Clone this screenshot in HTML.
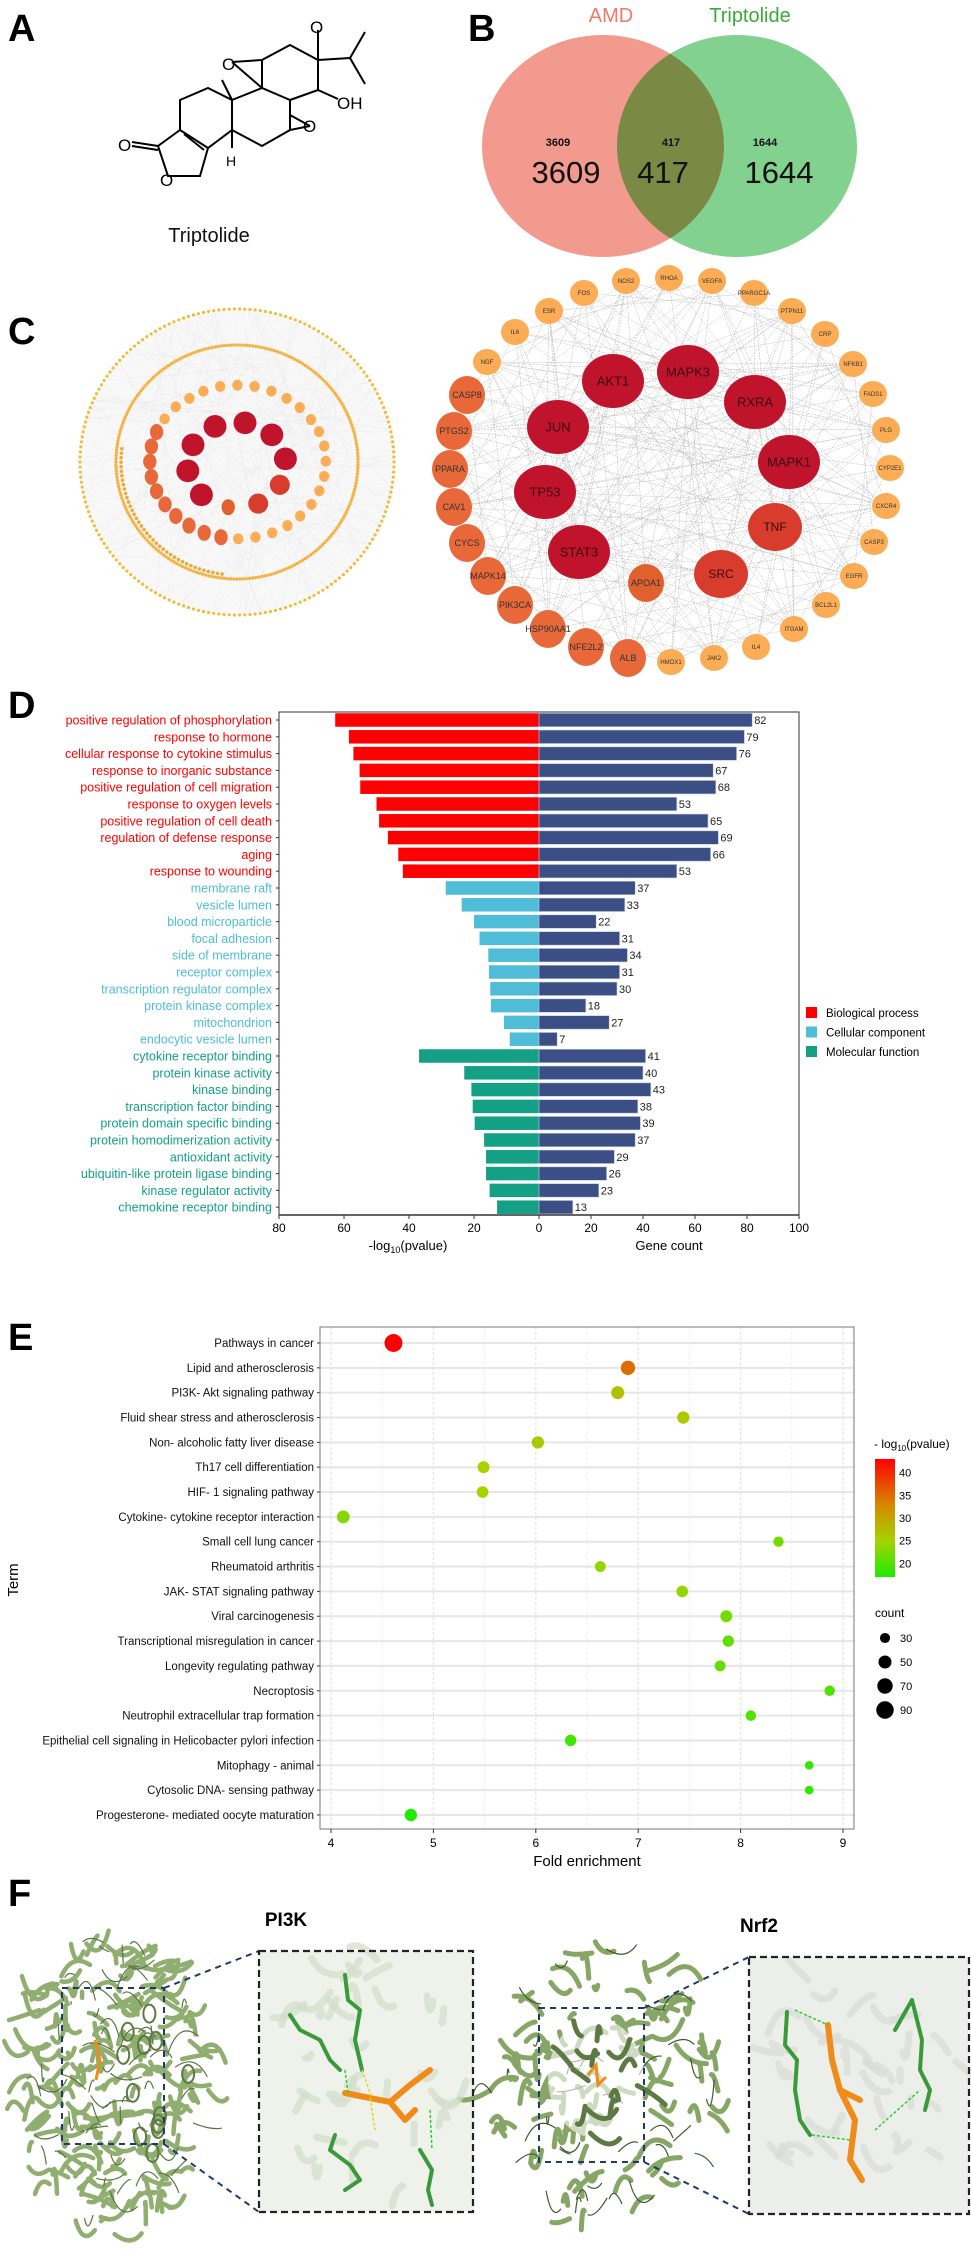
<!DOCTYPE html>
<html><head><meta charset="utf-8"><style>
body{margin:0;background:#fff;}
svg{display:block;font-family:"Liberation Sans",Arial,sans-serif;}
</style></head><body>
<svg id="fig" width="971" height="2250" viewBox="0 0 971 2250">
<text x="8" y="41" font-size="38" font-weight="bold">A</text>
<text x="468" y="41" font-size="38" font-weight="bold">B</text>
<text x="8" y="344" font-size="38" font-weight="bold">C</text>
<text x="8" y="718" font-size="38" font-weight="bold">D</text>
<text x="8" y="1350" font-size="38" font-weight="bold">E</text>
<text x="8" y="1906" font-size="38" font-weight="bold">F</text>

<g stroke="#000" stroke-width="2" fill="none">
<polyline points="180,130 180,100 208,88 232,100 232,130 208,148 180,130"/>
<polyline points="232,100 262,88 290,100 290,130 262,146 232,130"/>
<polyline points="262,88 262,60 290,45 318,60 318,90 290,100"/>
<line x1="262" y1="60" x2="232" y2="62"/><line x1="232" y1="62" x2="262" y2="88"/>
<line x1="318" y1="60" x2="318" y2="30"/>
<line x1="318" y1="60" x2="350" y2="58"/><line x1="350" y1="58" x2="365" y2="32"/><line x1="350" y1="58" x2="365" y2="84"/>
<line x1="318" y1="90" x2="338" y2="99"/>
<line x1="290" y1="130" x2="310" y2="126"/><line x1="290" y1="115" x2="310" y2="126"/>
<polyline points="180,130 158,146 168,176 200,176 208,148"/>
<line x1="184" y1="134" x2="204" y2="150"/>
<line x1="158" y1="146" x2="132" y2="142"/><line x1="158" y1="150" x2="132" y2="146"/>
<line x1="232" y1="100" x2="222" y2="80"/>
<line x1="232" y1="130" x2="232" y2="148"/>
</g>
<g font-size="17" fill="#000">
<text x="222" y="70">O</text><text x="310" y="33">O</text><text x="337" y="109">OH</text>
<text x="303" y="132">O</text><text x="118" y="151">O</text><text x="160" y="186">O</text><text x="226" y="166" font-size="14">H</text>
</g>
<text x="209" y="242" font-size="20" text-anchor="middle" fill="#111">Triptolide</text>

<g>
<text x="611" y="22" font-size="20" text-anchor="middle" fill="#f07a6a">AMD</text>
<text x="750" y="22" font-size="20" text-anchor="middle" fill="#3aaa3a">Triptolide</text>
<ellipse cx="603" cy="146" rx="121" ry="111" fill="#f29a8e"/>
<ellipse cx="737" cy="146" rx="120" ry="111" fill="#6cc97a" fill-opacity="0.85"/>
<clipPath id="clipA"><ellipse cx="603" cy="146" rx="121" ry="111"/></clipPath>
<ellipse cx="737" cy="146" rx="120" ry="111" fill="#7a8a45" clip-path="url(#clipA)"/>
<g font-weight="bold" font-size="11" text-anchor="middle" fill="#111">
<text x="558" y="146">3609</text><text x="671" y="146">417</text><text x="765" y="146">1644</text></g>
<g font-size="31" text-anchor="middle" fill="#111">
<text x="566" y="183">3609</text>
<text x="663" y="183">417</text>
<text x="779" y="183">1644</text></g>
</g>

<g id="netL"></g>
<g id="netR"></g>
<g id="chartD"></g>
<g id="chartE"></g>

<g id="panelF">
<text x="286" y="1926" font-size="19" font-weight="bold" text-anchor="middle">PI3K</text>
<text x="759" y="1932" font-size="19" font-weight="bold" text-anchor="middle">Nrf2</text>
<rect x="259" y="1951" width="214" height="261" fill="#eef2ea"/>
<rect x="749" y="1957" width="220" height="257" fill="#eceeea"/>
<g id="protA"></g>
<g id="protB"></g>
<g id="siteA"></g><g id="siteB"></g>
<g fill="none" stroke="#1e3a6e" stroke-width="2" stroke-dasharray="6,5">
<rect x="62" y="1988" width="102" height="156"/>
<rect x="539" y="2008" width="105" height="154"/>
<line x1="164" y1="1988" x2="259" y2="1951"/><line x1="164" y1="2144" x2="259" y2="2212"/>
<line x1="644" y1="2008" x2="749" y2="1957"/><line x1="644" y1="2162" x2="749" y2="2214"/>
</g>
<g fill="none" stroke="#222" stroke-width="2.2" stroke-dasharray="7,4">
<rect x="259" y="1951" width="214" height="261"/>
<rect x="749" y="1957" width="220" height="257"/>
</g>
<g stroke="#3a9a3a" stroke-width="4" fill="none" stroke-linecap="round" stroke-linejoin="round">
<polyline points="345,1975 348,2000 360,2010 355,2040 362,2070"/>
<polyline points="290,2015 300,2030 320,2040 330,2060 340,2070"/>
<polyline points="335,2135 330,2150 350,2165 360,2180 345,2190"/>
<polyline points="420,2150 432,2170 428,2190 432,2205"/>
<polyline points="787,2012 785,2045 797,2060 795,2090 800,2120 810,2135"/>
<polyline points="895,2030 912,2000 922,2040 920,2070 930,2090 925,2110"/>
</g>
<g stroke="#f08a18" stroke-width="6" fill="none" stroke-linecap="round" stroke-linejoin="round">
<polyline points="345,2093 370,2098 390,2102 410,2085 430,2070"/>
<polyline points="390,2102 405,2120 415,2110"/>
<polyline points="828,2025 832,2060 840,2090 855,2120 850,2160 862,2180"/>
<polyline points="840,2090 860,2100"/>
</g>
<g stroke="#2ad02a" stroke-width="1.5" stroke-dasharray="3,2" fill="none">
<line x1="345" y1="2070" x2="348" y2="2093"/><line x1="430" y1="2110" x2="432" y2="2150"/>
<line x1="795" y1="2010" x2="828" y2="2025"/><line x1="812" y1="2135" x2="850" y2="2140"/><line x1="875" y1="2130" x2="920" y2="2090"/>
</g>
<g stroke="#e6d21a" stroke-width="1.5" stroke-dasharray="3,2" fill="none">
<line x1="362" y1="2070" x2="372" y2="2098"/><line x1="370" y1="2098" x2="375" y2="2130"/>
</g>
</g>
</svg>
<script>
const NS='http://www.w3.org/2000/svg';
function mk(parent,tag,attrs,txt){const e=document.createElementNS(NS,tag);for(const k in attrs)e.setAttribute(k,attrs[k]);if(txt!==undefined)e.textContent=txt;parent.appendChild(e);return e;}
let seed=7;function rnd(){seed=(seed*16807)%2147483647;return seed/2147483647;}

const coreNames=['AKT1','MAPK3','RXRA','JUN','MAPK1','TP53','STAT3','TNF','SRC','APOA1','PTGS2','PPARA','CAV1','CYCS','MAPK14','PIK3CA','HSP90AA1','NFE2L2','ALB','CASP8','NGF','IL6','ESR','FOS','NOS2','RHOA','VEGFA','PPARGC1A','PTPN11','CRP','NFKB1','FADS1','PLG','CYP2E1','CXCR4','CASP3','EGFR','BCL2L1','ITGAM','IL4','JAK2','HMOX1'];
const coreX=[613,688,755,558,789,545,579,775,721,646,454,450,454,467,488,515,548,586,628,467,487,515,549,584,626,669,712,754,792,825,853,873,886,890,886,874,854,826,794,756,714,671];
const coreY=[381,372,402,427,462,492,552,527,574,583,431,469,507,543,576,605,629,647,658,395,362,332,311,293,281,278,281,293,311,334,364,394,430,468,506,542,576,605,629,647,658,662];
const coreTier=[0,0,0,0,0,0,0,1,1,2,2,2,2,2,2,2,2,2,2,2,3,3,3,3,3,3,3,3,3,3,3,3,3,3,3,3,3,3,3,3,3,3];
const rxT=[31,27,18,14],ryT=[27,24,19,13],fillsT=['#c0132c','#d83c2c','#e8683a','#fbac55'];

/* ---------- Panel C left network ---------- */
(function(){
const g=document.getElementById('netL');
const cx=237,cy=462;
mk(g,'ellipse',{cx:cx,cy:cy,rx:156,ry:151,fill:'#f8f8f8'});
const lines=mk(g,'g',{stroke:'#e6e6e6','stroke-width':0.3});
for(let i=0;i<200;i++){const a=rnd()*6.283,b=rnd()*6.283,r1=120*Math.sqrt(rnd()),r2=155;mk(lines,'line',{x1:cx+r1*Math.cos(a),y1:cy+r1*Math.sin(a),x2:cx+r2*Math.cos(b),y2:cy+r2*0.97*Math.sin(b)});}
for(let i=0;i<190;i++){const a=i/190*Math.PI*2;mk(g,'circle',{cx:cx+157*Math.cos(a),cy:cy+153*Math.sin(a),r:1.6,fill:'#f2bb3a'});}
for(let i=0;i<240;i++){const a=i/240*Math.PI*2;mk(g,'circle',{cx:cx+121*Math.cos(a),cy:cy+117*Math.sin(a),r:1.7,fill:'#f3b445'});}
for(let i=0;i<40;i++){const a=1.7+i/40*1.6;mk(g,'circle',{cx:cx+116*Math.cos(a),cy:cy+113*Math.sin(a),r:1.8,fill:'#f0a838'});}
const s=0.4,ox=668,oy=470;
for(let i=0;i<coreNames.length;i++){const t=coreTier[i];let f=fillsT[t];if(i===9)f='#e0602e';
mk(g,'ellipse',{cx:cx+(coreX[i]-ox)*s,cy:cy+(coreY[i]-oy)*s,rx:rxT[t]*0.37,ry:ryT[t]*0.42,fill:f});}
})();

/* ---------- Panel C right network ---------- */
(function(){
const g=document.getElementById('netR');
const el=mk(g,'g',{stroke:'#b8b8b8','stroke-width':0.5,'stroke-dasharray':'2,1'});
for(let i=0;i<coreNames.length;i++)for(let j=i+1;j<coreNames.length;j++){if((i*7+j*3)%5===0||coreTier[i]===0&&j%2===0)mk(el,'line',{x1:coreX[i],y1:coreY[i],x2:coreX[j],y2:coreY[j]});}
const fs=[13,12,9,6];
for(let i=0;i<coreNames.length;i++){const t=coreTier[i];let f=fillsT[t];if(i===9)f='#e0602e';
const n=mk(g,'ellipse',{cx:coreX[i],cy:coreY[i],rx:rxT[t],ry:ryT[t],fill:f});


mk(g,'text',{x:coreX[i],y:coreY[i]+fs[t]*0.35,'font-size':fs[t],'text-anchor':'middle',fill:t<2?'#3a0a10':'#333'},coreNames[i]);}
})();

/* ---------- Panel D ---------- */
const goTerms=['positive regulation of phosphorylation','response to hormone','cellular response to cytokine stimulus','response to inorganic substance','positive regulation of cell migration','response to oxygen levels','positive regulation of cell death','regulation of defense response','aging','response to wounding','membrane raft','vesicle lumen','blood microparticle','focal adhesion','side of membrane','receptor complex','transcription regulator complex','protein kinase complex','mitochondrion','endocytic vesicle lumen','cytokine receptor binding','protein kinase activity','kinase binding','transcription factor binding','protein domain specific binding','protein homodimerization activity','antioxidant activity','ubiquitin-like protein ligase binding','kinase regulator activity','chemokine receptor binding'];
const goCategory=['BP','BP','BP','BP','BP','BP','BP','BP','BP','BP','CC','CC','CC','CC','CC','CC','CC','CC','CC','CC','MF','MF','MF','MF','MF','MF','MF','MF','MF','MF'];
const goLogP=[62.7,58.5,57.1,55.2,55,50,49.2,46.5,43.3,41.9,28.7,23.8,20,18.3,15.6,15.4,15,14.8,10.8,9,36.9,23,20.8,20.4,19.8,16.9,16.3,16.3,15.2,12.9];
const goCount=[82,79,76,67,68,53,65,69,66,53,37,33,22,31,34,31,30,18,27,7,41,40,43,38,39,37,29,26,23,13];
const leftTicks=[80,60,40,20,0];
const rightTicks=[20,40,60,80,100];
(function(){
const g=document.getElementById('chartD');
const L=279,R=799,Z=539,T=712,B=1215,row0=720,step=16.8,bh=13.5;
const xl=v=>Z-v*(Z-L)/80, xr=v=>Z+v*(R-Z)/100, y=i=>row0+i*step;
const col={BP:'#ff0000',CC:'#4fbcd8',MF:'#14a085'};
mk(g,'rect',{x:L,y:T,width:R-L,height:B-T,fill:'#fff',stroke:'#333','stroke-width':1});
goTerms.forEach((t,i)=>{
const b1=mk(g,'rect',{x:xl(goLogP[i]),y:y(i)-bh/2,width:Z-xl(goLogP[i]),height:bh,fill:col[goCategory[i]]});


const b2=mk(g,'rect',{x:Z,y:y(i)-bh/2,width:xr(goCount[i])-Z,height:bh,fill:'#3b4f86',stroke:'#c8cde0','stroke-width':0.6});


mk(g,'text',{x:xr(goCount[i])+2,y:y(i)+4,'font-size':11,fill:'#222'},goCount[i]);
const lb=mk(g,'text',{x:272,y:y(i)+4.5,'font-size':12.5,'text-anchor':'end',fill:col[goCategory[i]]},t);


mk(g,'line',{x1:L-3,x2:L,y1:y(i),y2:y(i),stroke:'#333'});
});
mk(g,'line',{x1:L,x2:R,y1:B,y2:B,stroke:'#333','stroke-width':1.5});
leftTicks.forEach(v=>{mk(g,'line',{x1:xl(v),x2:xl(v),y1:B,y2:B+4,stroke:'#333'});mk(g,'text',{x:xl(v),y:B+17,'font-size':12,'text-anchor':'middle'},v);});
rightTicks.forEach(v=>{mk(g,'line',{x1:xr(v),x2:xr(v),y1:B,y2:B+4,stroke:'#333'});mk(g,'text',{x:xr(v),y:B+17,'font-size':12,'text-anchor':'middle'},v);});
const xt=mk(g,'text',{x:408,y:1250,'font-size':13,'text-anchor':'middle'});
xt.innerHTML='-log<tspan font-size="9" dy="3">10</tspan><tspan dy="-3">(pvalue)</tspan>';


const xt2=mk(g,'text',{x:669,y:1250,'font-size':13,'text-anchor':'middle'},'Gene count');


[['Biological process','#ff0000'],['Cellular component','#4fbcd8'],['Molecular function','#14a085']].forEach((e,i)=>{
const yy=1013+i*19.5;
const r=mk(g,'rect',{x:806,y:yy-6,width:11,height:11,fill:e[1]});


mk(g,'text',{x:826,y:yy+4,'font-size':11.5},e[0]);});
})();

/* ---------- Panel E ---------- */
const keggTerms=['Pathways in cancer','Lipid and atherosclerosis','PI3K- Akt signaling pathway','Fluid shear stress and atherosclerosis','Non- alcoholic fatty liver disease','Th17 cell differentiation','HIF- 1 signaling pathway','Cytokine- cytokine receptor interaction','Small cell lung cancer','Rheumatoid arthritis','JAK- STAT signaling pathway','Viral carcinogenesis','Transcriptional misregulation in cancer','Longevity regulating pathway','Necroptosis','Neutrophil extracellular trap formation','Epithelial cell signaling in Helicobacter pylori infection','Mitophagy -  animal','Cytosolic DNA- sensing pathway','Progesterone- mediated oocyte maturation'];
const keggFold=[4.61,6.9,6.8,7.44,6.02,5.49,5.48,4.12,8.37,6.63,7.43,7.86,7.88,7.8,8.87,8.1,6.34,8.67,8.67,4.78];
const keggLogP=[43,35,27,26,26,25,25,23,22,24,24,22,21,21,20,20,19,18,18,17];
const keggCount=[95,60,50,45,45,42,40,48,32,35,40,42,38,35,32,33,38,22,22,45];
const foldTicks=[4,5,6,7,8,9];
const colorTicks=[20,25,30,35,40];
const sizeTicks=[30,50,70,90];
(function(){
const g=document.getElementById('chartE');
const L=320,R=854,T=1327,B=1829,row0=1343,step=24.84;
const x=v=>331+(v-4)*102.4, y=i=>row0+i*step, rad=c=>Math.sqrt(c)*0.92;
const stops=[[17,[30,235,0]],[25,[165,210,0]],[33,[215,135,0]],[43,[255,0,0]]];
function colr(v){for(let k=0;k<stops.length-1;k++){const a=stops[k],b=stops[k+1];if(v<=b[0]||k===stops.length-2){const t=Math.max(0,Math.min(1,(v-a[0])/(b[0]-a[0])));return 'rgb('+a[1].map((c,j)=>Math.round(c+(b[1][j]-c)*t)).join(',')+')';}}}
mk(g,'rect',{x:L,y:T,width:R-L,height:B-T,fill:'#fff'});
for(let v=4;v<=9;v+=0.5)mk(g,'line',{x1:x(v),x2:x(v),y1:T,y2:B,stroke:'#e4e4e4','stroke-width':v%1?0.6:1.2,'stroke-dasharray':'3,2'});
keggTerms.forEach((t,i)=>{mk(g,'line',{x1:L,x2:R,y1:y(i),y2:y(i),stroke:'#e6e6e6','stroke-width':2});
mk(g,'line',{x1:L-3,x2:L,y1:y(i),y2:y(i),stroke:'#333'});
const lb=mk(g,'text',{x:314,y:y(i)+4,'font-size':11.5,'text-anchor':'end',fill:'#111'},t);

});
mk(g,'rect',{x:L,y:T,width:R-L,height:B-T,fill:'none',stroke:'#777','stroke-width':1});
keggTerms.forEach((t,i)=>{const d=mk(g,'circle',{cx:x(keggFold[i]),cy:y(i),r:rad(keggCount[i]),fill:colr(keggLogP[i])});

});
foldTicks.forEach(v=>{mk(g,'line',{x1:x(v),x2:x(v),y1:B,y2:B+4,stroke:'#333'});mk(g,'text',{x:x(v),y:B+18,'font-size':12,'text-anchor':'middle'},v);});
const xt=mk(g,'text',{x:587,y:1866,'font-size':15,'text-anchor':'middle'},'Fold enrichment');


const yt=mk(g,'text',{x:0,y:0,'font-size':15,'text-anchor':'middle',transform:'translate(18,1580) rotate(-90)'},'Term');


const lt=mk(g,'text',{x:874,y:1448,'font-size':12});
lt.innerHTML='- log<tspan font-size="8" dy="3">10</tspan><tspan dy="-3">(pvalue)</tspan>';
const defs=mk(g,'defs',{});const gr=mk(defs,'linearGradient',{id:'cgrad',x1:0,y1:1,x2:0,y2:0});
stops.forEach(s=>mk(gr,'stop',{offset:((s[0]-17)/26),'stop-color':'rgb('+s[1].join(',')+')'}));
const cb=mk(g,'rect',{x:875,y:1459,width:20,height:118,fill:'url(#cgrad)'});


const cy=v=>1577-(v-17)*(118/26);
colorTicks.forEach(v=>mk(g,'text',{x:899,y:cy(v)+4,'font-size':11},v));
mk(g,'text',{x:875,y:1617,'font-size':12},'count');
sizeTicks.forEach((v,i)=>{const c=mk(g,'circle',{cx:885,cy:1638+i*24,r:rad(v),fill:'#000'});


mk(g,'text',{x:900,y:1642+i*24,'font-size':11},v);});
})();

/* ---------- Panel F ribbon textures (decorative) ---------- */
function ribbons(g,cx,cy,rx,ry,n,col,w,op){
for(let i=0;i<n;i++){const a=rnd()*6.283,r=Math.sqrt(rnd());const x0=cx+rx*r*Math.cos(a),y0=cy+ry*r*Math.sin(a);
const dx=(rnd()-0.5)*40,dy=(rnd()-0.5)*40;
mk(g,'path',{d:`M${x0},${y0} q${dx},${(rnd()-0.5)*40} ${dx*1.6},${dy}`,stroke:col,'stroke-width':w,fill:'none','stroke-linecap':'round',opacity:op});}}
ribbons(document.getElementById('siteA'),366,2081,100,125,35,'#d3ddca',7,0.7);
ribbons(document.getElementById('siteB'),859,2085,105,122,35,'#d8dbd5',7,0.7);
(function(){const g=document.getElementById('protA');
ribbons(g,115,2085,95,150,190,'#8fae70',4.5,1);
ribbons(g,115,2085,90,145,60,'#5a7544',1.2,1);
for(let i=0;i<12;i++)mk(g,'ellipse',{cx:120+rnd()*70,cy:2000+rnd()*160,rx:6,ry:9,fill:'none',stroke:'#5d7a45','stroke-width':2});
mk(g,'path',{d:'M95,2040 l5,20 -4,20',stroke:'#f08a18','stroke-width':3,fill:'none'});})();
(function(){const g=document.getElementById('protB');
ribbons(g,604,2085,118,140,100,'#86a666',5,1);
ribbons(g,604,2085,115,138,35,'#3f5a2f',1.2,1);
mk(g,'ellipse',{cx:596,cy:2078,rx:48,ry:60,fill:'#fff',opacity:0.6});
ribbons(g,596,2080,45,55,14,'#5d7a45',5,1);
mk(g,'path',{d:'M588,2075 l8,-10 2,20 8,-8',stroke:'#f08a18','stroke-width':3,fill:'none'});})();
</script>
</body></html>
